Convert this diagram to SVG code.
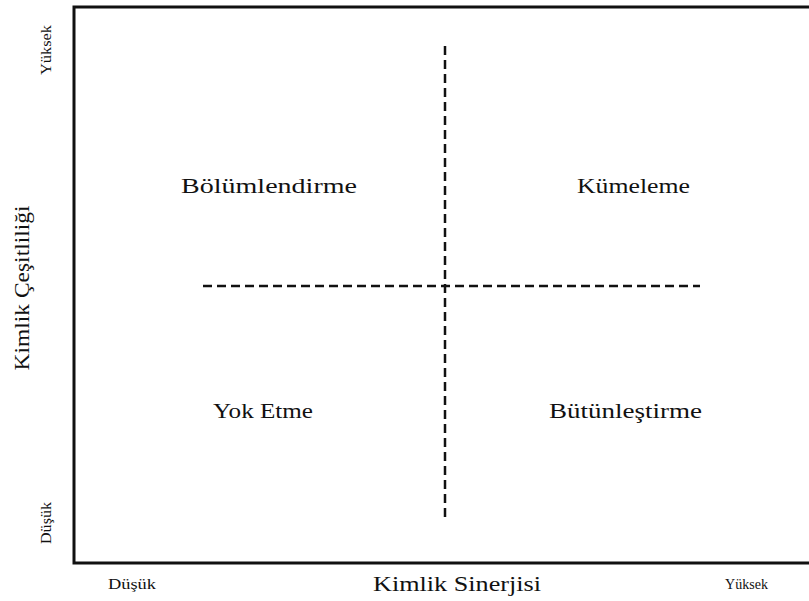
<svg xmlns="http://www.w3.org/2000/svg" width="809" height="601" viewBox="0 0 809 601">
  <style>
    text { font-family: "Liberation Serif", "Times New Roman", serif; fill: #111; }
    .quad { font-size: 22px; }
    .axis { font-size: 22px; }
    .tick { font-size: 14px; }
    .frame { fill: none; stroke: #111; stroke-width: 3; }
    .divider { stroke: #111; stroke-width: 2.5; stroke-dasharray: 9 5; fill: none; }
  </style>
  <rect width="809" height="601" fill="#fff"/>

  <!-- chart frame: left and bottom axes plus top edge -->
  <g id="frame">
    <path class="frame" d="M812 7 H74 V563 H812"/>
  </g>

  <!-- quadrant dividers -->
  <g id="connectors">
    <line class="divider" x1="445" y1="46" x2="445" y2="522"/>
    <line class="divider" x1="203" y1="286" x2="700" y2="286"/>
  </g>

  <!-- quadrants -->
  <g id="bolumlendirme"><text class="quad" x="181" y="193" textLength="176" lengthAdjust="spacingAndGlyphs">Bölümlendirme</text></g>
  <g id="kumeleme"><text class="quad" x="577" y="193" textLength="113" lengthAdjust="spacingAndGlyphs">Kümeleme</text></g>
  <g id="yok-etme"><text class="quad" x="213" y="418" textLength="100" lengthAdjust="spacingAndGlyphs">Yok Etme</text></g>
  <g id="butunlestirme"><text class="quad" x="549" y="418" textLength="153" lengthAdjust="spacingAndGlyphs">Bütünleştirme</text></g>

  <!-- vertical axis -->
  <g id="y-axis">
    <text class="axis" transform="translate(29 288) rotate(-90)" text-anchor="middle" textLength="165" lengthAdjust="spacingAndGlyphs">Kimlik Çeşitliliği</text>
    <text class="tick" transform="translate(51 50) rotate(-90)" text-anchor="middle" textLength="50" lengthAdjust="spacingAndGlyphs">Yüksek</text>
    <text class="tick" transform="translate(51 523) rotate(-90)" text-anchor="middle" textLength="42" lengthAdjust="spacingAndGlyphs">Düşük</text>
  </g>

  <!-- horizontal axis -->
  <g id="x-axis">
    <text class="axis" x="373" y="591" textLength="168" lengthAdjust="spacingAndGlyphs">Kimlik Sinerjisi</text>
    <text class="tick" x="108" y="589" textLength="48" lengthAdjust="spacingAndGlyphs">Düşük</text>
    <text class="tick" x="725" y="589" textLength="43" lengthAdjust="spacingAndGlyphs">Yüksek</text>
  </g>
</svg>
